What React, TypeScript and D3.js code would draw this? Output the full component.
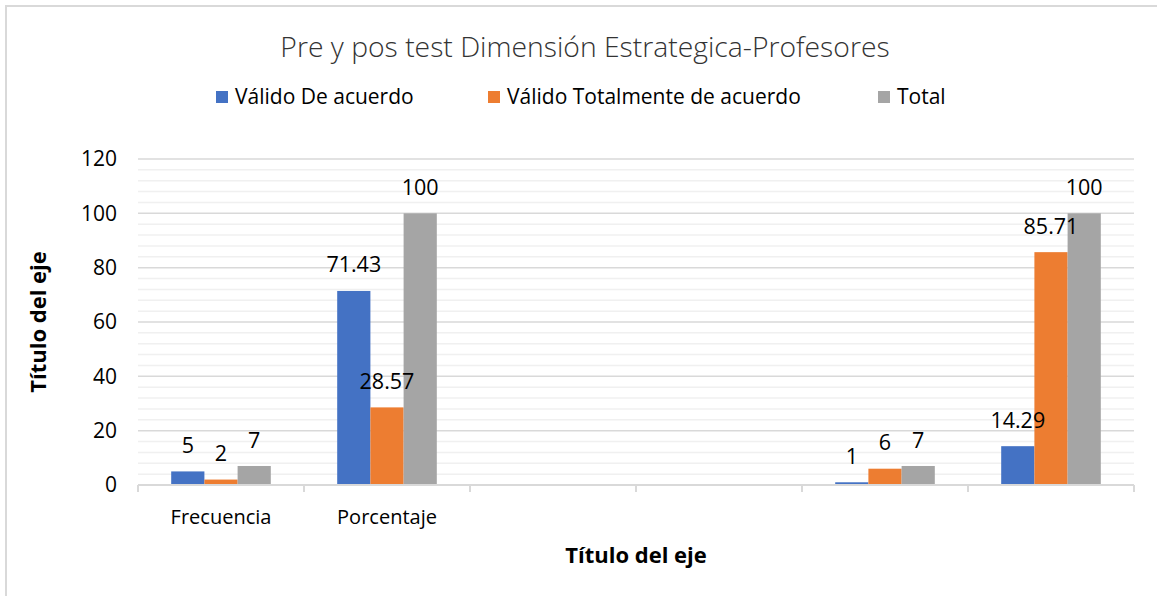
import React from 'react';
import * as d3 from 'd3';

const categories = ['Frecuencia', 'Porcentaje', '', '', '', ''];
const seriesNames = ['Válido De acuerdo', 'Válido Totalmente de acuerdo', 'Total'];
const deAcuerdo = [5, 71.43, null, null, 1, 14.29];
const totalmente = [2, 28.57, null, null, 6, 85.71];
const total = [7, 100, null, null, 7, 100];
const colors = ['#4472C4', '#ED7D31', '#A5A5A5'];
const yTicks = [0, 20, 40, 60, 80, 100, 120];

const W = 1157;
const H = 596;
const margin = { top: 159, right: 23, bottom: 111, left: 138 };
const font = "'Open Sans', 'Noto Sans', sans-serif";
const legendX = [216, 488, 878];

const App = () => {
  const seriesValues = [deAcuerdo, totalmente, total];
  const keys = categories.map((_, i) => String(i));

  const x = d3.scaleBand<string>()
    .domain(keys)
    .range([margin.left, W - margin.right])
    .paddingInner(0)
    .paddingOuter(0);

  const xs = d3.scaleBand<string>()
    .domain(seriesNames)
    .range([0, x.bandwidth()])
    .paddingInner(0)
    .paddingOuter(1);

  const y = d3.scaleLinear().domain([0, 120]).range([H - margin.bottom, margin.top]);
  const minorTicks = d3.range(0, 121, 4).filter(v => v % 20 !== 0);

  const left = margin.left;
  const right = W - margin.right;
  const bottom = y(0);
  const boundaries = keys.map(k => x(k) as number).concat([right]);

  return (
    <svg width={W} height={H} style={{ position: 'absolute', left: 0, top: 0, background: '#fff' }}>
      <rect width={W} height={H} fill="#fff" />
      <path d={`M${W},6H6V${H}`} fill="none" stroke="#d9d9d9" strokeWidth={2} />

      <text x={585} y={47} dy="0.35em" textAnchor="middle" fontFamily={font}
        fontWeight={300} fontSize={28.3} fill="#333">
        Pre y pos test Dimensión Estrategica-Profesores
      </text>

      {seriesNames.map((s, i) => (
        <g key={s}>
          <rect x={legendX[i]} y={91} width={12} height={12} fill={colors[i]} />
          <text x={legendX[i] + 19} y={97} dy="0.35em" fontFamily={font} fontSize={21} fill="#000">{s}</text>
        </g>
      ))}

      {minorTicks.map(t => (
        <line key={'m' + t} x1={left} x2={right} y1={y(t)} y2={y(t)} stroke="#f0f0f0" strokeWidth={1.5} />
      ))}
      {yTicks.filter(t => t > 0).map(t => (
        <line key={'g' + t} x1={left} x2={right} y1={y(t)} y2={y(t)} stroke="#d9d9d9" strokeWidth={1.5} />
      ))}

      {yTicks.map(t => (
        <text key={'t' + t} x={117} y={y(t)} dy="0.35em" textAnchor="end" fontFamily={font} fontSize={21} fill="#000">{t}</text>
      ))}

      {seriesValues.map((vals, si) => vals.map((v, ci) => {
        if (v === null) return null;
        const bx = (x(keys[ci]) as number) + (xs(seriesNames[si]) as number);
        return (
          <rect key={`b${si}-${ci}`} x={bx} y={y(v)} width={xs.bandwidth()} height={bottom - y(v)} fill={colors[si]} />
        );
      }))}

      <line x1={left} x2={right} y1={bottom} y2={bottom} stroke="#d9d9d9" strokeWidth={2} />
      {boundaries.map((b, i) => (
        <line key={'tk' + i} x1={b} x2={b} y1={bottom} y2={bottom + 7} stroke="#d9d9d9" strokeWidth={2} />
      ))}

      {seriesValues.map((vals, si) => vals.map((v, ci) => {
        if (v === null) return null;
        const cx = (x(keys[ci]) as number) + (xs(seriesNames[si]) as number) + xs.bandwidth() / 2;
        return (
          <text key={`l${si}-${ci}`} x={cx} y={y(v) - 26} dy="0.35em" textAnchor="middle"
            fontFamily={font} fontSize={21.5} fill="#000">{v}</text>
        );
      }))}

      {categories.map((c, i) => (
        <text key={'c' + i} x={(x(keys[i]) as number) + x.bandwidth() / 2} y={517} dy="0.35em"
          textAnchor="middle" fontFamily={font} fontSize={20} fill="#000">{c}</text>
      ))}

      <text x={(left + right) / 2} y={555} dy="0.35em" textAnchor="middle" fontFamily={font}
        fontWeight="bold" fontSize={22} fill="#000">Título del eje</text>
      <text transform={`translate(38,${(y(0) + y(120)) / 2}) rotate(-90)`} dy="0.35em" textAnchor="middle"
        fontFamily={font} fontWeight="bold" fontSize={22} fill="#000">Título del eje</text>
    </svg>
  );
};

export default App;
